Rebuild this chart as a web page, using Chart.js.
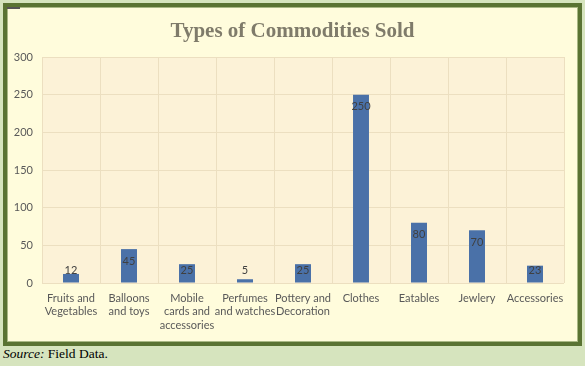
<!DOCTYPE html>
<html>
<head>
<meta charset="utf-8">
<script src="https://cdn.jsdelivr.net/npm/chart.js@4"></script>
<style>
  body { margin: 0; width: 585px; height: 366px; background: #d6e4be; position: relative; overflow: hidden; }
  #frame { position: absolute; left: 3px; top: 3px; width: 571px; height: 335px; border: 4px solid #5a7333; box-shadow: inset 0 0 0 1px #a9b884; background: #fffcdc; }
  #mark { position: absolute; left: 7px; top: 7px; width: 13px; height: 2px; background: #555; }
  #src { position: absolute; left: 3px; top: 346px; font: 13.5px "Liberation Serif", serif; color: #000; }
</style>
</head>
<body>
<div id="frame"><canvas id="myChart" width="571" height="335"></canvas></div>
<div id="mark"></div>
<div id="src"><i>Source:</i> Field Data.</div>
<script>
'use strict';

let chartTitle = 'Types of Commodities Sold';
let categories = [['Fruits and', 'Vegetables'], ['Balloons', 'and toys'], ['Mobile', 'cards and', 'accessories'], ['Perfumes', 'and watches'], ['Pottery and', 'Decoration'], 'Clothes', 'Eatables', 'Jewlery', 'Accessories'];
let sold = [12, 45, 25, 5, 25, 250, 80, 70, 23];
let yTicks = [0, 50, 100, 150, 200, 250, 300];

// plot area fill, centred title, bar value labels
const extras = {
  id: 'extras',
  beforeDraw(chart) {
    const a = chart.chartArea;
    const ctx = chart.ctx;
    ctx.save();
    ctx.fillStyle = '#fcf2d7';
    ctx.fillRect(a.left, a.top, a.right - a.left, a.bottom - a.top);
    ctx.font = 'bold 21px "Liberation Serif", serif';
    ctx.fillStyle = '#7f7b6a';
    ctx.textAlign = 'center';
    ctx.textBaseline = 'middle';
    ctx.fillText(chartTitle, chart.width / 2, 25);
    ctx.restore();
  },
  afterDatasetsDraw(chart) {
    const ctx = chart.ctx;
    const meta = chart.getDatasetMeta(0);
    ctx.save();
    ctx.font = '11px Lato, sans-serif';
    ctx.fillStyle = '#404040';
    ctx.textAlign = 'center';
    ctx.textBaseline = 'middle';
    meta.data.forEach((bar, i) => {
      let y = Math.min(bar.y + 12, bar.base - 12);
      ctx.fillText(sold[i], bar.x, y);
    });
    ctx.restore();
  }
};

let ctx = document.getElementById('myChart').getContext('2d');
let myChart = new Chart(ctx, {
  type: 'bar',
  data: {
    labels: categories,
    datasets: [{
      data: sold,
      backgroundColor: '#4a71a8',
      barPercentage: 0.55,
      categoryPercentage: 0.5
    }]
  },
  options: {
    responsive: false,
    animation: false,
    layout: { padding: { left: 0, right: 14, top: 50, bottom: 0 } },
    plugins: {
      legend: { display: false },
      tooltip: { enabled: false }
    },
    scales: {
      x: {
        grid: { color: '#ecdfc0', drawTicks: false, offset: true },
        border: { display: false },
        ticks: { color: '#595959', font: { family: 'Lato', size: 11 }, padding: 9, maxRotation: 0, autoSkip: false },
        afterFit(scale) { scale.height = 59; }
      },
      y: {
        min: 0,
        max: 300,
        afterBuildTicks(scale) { scale.ticks = yTicks.map(v => ({ value: v })); },
        grid: { color: '#ecdfc0', drawTicks: false },
        border: { display: false },
        ticks: { color: '#595959', font: { family: 'Lato', size: 11 }, padding: 9 },
        afterFit(scale) { scale.width = 35; }
      }
    }
  },
  plugins: [extras]
});
</script>
</body>
</html>
